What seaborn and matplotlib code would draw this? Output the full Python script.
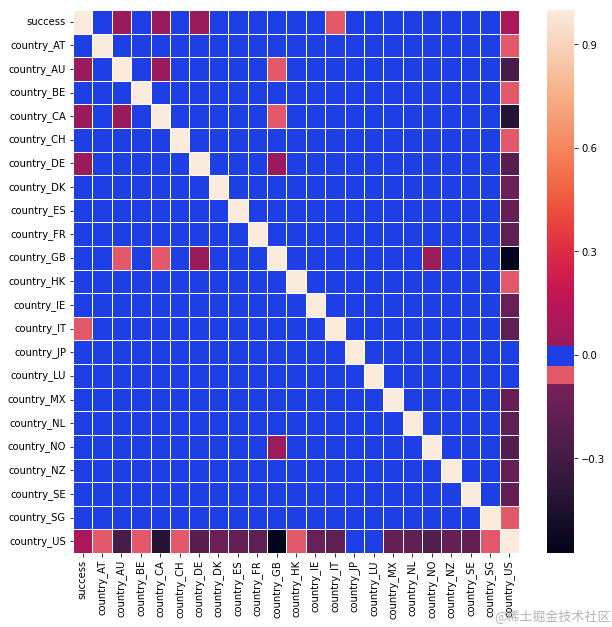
import numpy as np
import pandas as pd
import seaborn as sns
import matplotlib.pyplot as plt
from matplotlib.colors import ListedColormap, to_rgba

labels = ['success', 'country_AT', 'country_AU', 'country_BE', 'country_CA',
          'country_CH', 'country_DE', 'country_DK', 'country_ES', 'country_FR',
          'country_GB', 'country_HK', 'country_IE', 'country_IT', 'country_JP',
          'country_LU', 'country_MX', 'country_NL', 'country_NO', 'country_NZ',
          'country_SE', 'country_SG', 'country_US']

# most off-diagonal pairs are tiny negative correlations
base_value = -0.01

# correlations of country_US with every other column
us_corr = {'success': 0.085, 'country_AT': -0.06, 'country_AU': -0.28, 'country_BE': -0.06,
           'country_CA': -0.42, 'country_CH': -0.06, 'country_DE': -0.21, 'country_DK': -0.14,
           'country_ES': -0.16, 'country_FR': -0.19, 'country_GB': -0.574, 'country_HK': -0.06,
           'country_IE': -0.15, 'country_IT': -0.19, 'country_JP': -0.01, 'country_LU': -0.01,
           'country_MX': -0.16, 'country_NL': -0.19, 'country_NO': -0.24, 'country_NZ': -0.16,
           'country_SE': -0.17, 'country_SG': -0.05}

# other notable pairs
other_pairs = [('success', 'country_AU', 0.03), ('success', 'country_CA', 0.03),
               ('success', 'country_DE', 0.03), ('success', 'country_IT', -0.06),
               ('country_AU', 'country_CA', 0.03), ('country_AU', 'country_GB', -0.06),
               ('country_CA', 'country_GB', -0.06), ('country_DE', 'country_GB', 0.03),
               ('country_GB', 'country_NO', 0.035)]

corr = pd.DataFrame(base_value, index=labels, columns=labels)
for k, v in us_corr.items():
    corr.loc[k, 'country_US'] = v
    corr.loc['country_US', k] = v
for a, b, v in other_pairs:
    corr.loc[a, b] = v
    corr.loc[b, a] = v
for k in labels:
    corr.loc[k, k] = 1.0

vmin, vmax = corr.values.min(), corr.values.max()

# rocket with a blue band around zero and a pink band just below
grid = np.linspace(vmin, vmax, 512)
cols = sns.color_palette('rocket', as_cmap=True)((grid - vmin) / (vmax - vmin))
cols[(grid >= -0.032) & (grid <= 0.026)] = to_rgba('#1e3fe6')
cols[(grid >= -0.087) & (grid < -0.032)] = to_rgba('#e3596a')
cmap = ListedColormap(cols)

fig = plt.figure(figsize=(8.5, 8.71), dpi=72)
ax = fig.add_axes([0.1193, 0.118, 0.7288, 0.866])
cax = fig.add_axes([0.8938, 0.118, 0.0441, 0.866])
sns.heatmap(corr, cmap=cmap, vmin=vmin, vmax=vmax, linewidths=1, linecolor='white',
            ax=ax, cbar_ax=cax, cbar_kws={'ticks': [-0.3, 0.0, 0.3, 0.6, 0.9]})
ax.tick_params(labelsize=10)
cax.tick_params(labelsize=10)
cax.set_yticklabels(['\u22120.3', '0.0', '0.3', '0.6', '0.9'])

fig.text(0.998, 0.006, '@稀土掘金技术社区', ha='right', va='bottom', fontsize=13,
         color='#b4b4b4', family=['Noto Sans CJK SC', 'DejaVu Sans'])

fig.savefig('out.png', dpi=72)
